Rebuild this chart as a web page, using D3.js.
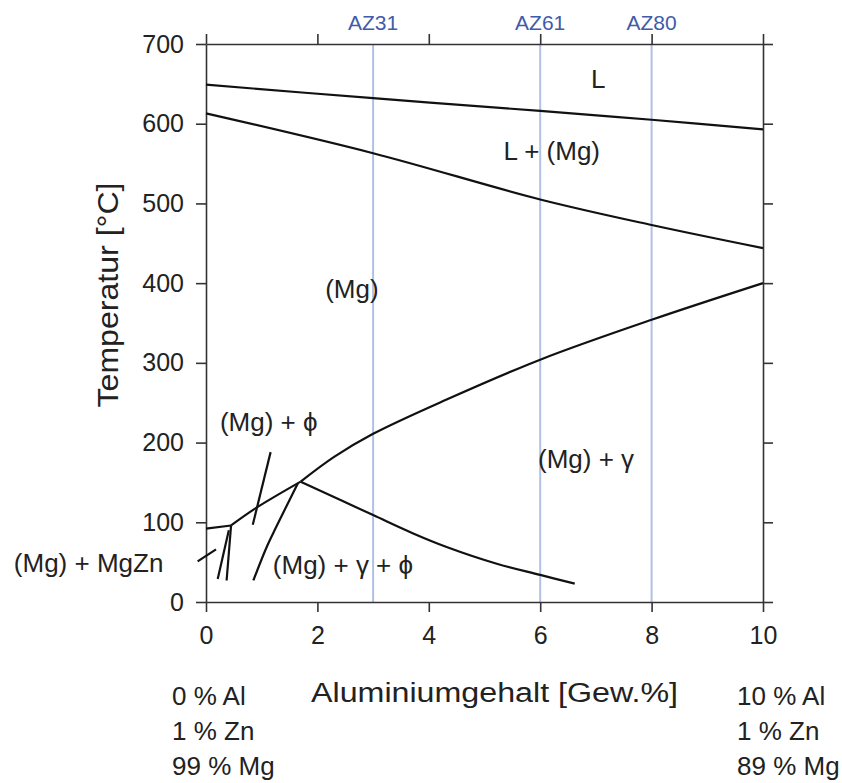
<!DOCTYPE html>
<html>
<head>
<meta charset="utf-8">
<script src="https://cdn.jsdelivr.net/npm/d3@7"></script>
<style>
  body { margin: 0; background: #fff; }
  text { font-family: "Liberation Sans", Arial, sans-serif; fill: #222; }
</style>
</head>
<body>
<div id="chart"></div>
<script>
// Mg-Al-Zn (1 % Zn) section: [wt.% Al, °C]
const xTicks = [0, 2, 4, 6, 8, 10];
const yTicks = [0, 100, 200, 300, 400, 500, 600, 700];

const alloys = ['AZ31', 'AZ61', 'AZ80'];
const alloyAl = [3, 6, 8];

const liquidus = [[0, 649], [3, 632], [6, 616], [8, 605], [10, 593]];
const solidus = [[0, 613], [3, 563], [6, 505], [8, 473], [10, 444]];
const gammaSolvus = [[1.7, 151], [2.3, 182], [3, 211], [4.32, 254], [6, 304], [8, 354], [10, 400]];
const phiSolvus = [[0.45, 96], [0.9, 118], [1.7, 151]];
const zincSolvus = [[0, 92], [0.45, 96]];
const gammaPhiRight = [[1.7, 151], [3, 109], [3.72, 86], [4.32, 69], [5.22, 48], [6, 34], [6.62, 23]];
const gammaPhiLeft = [[0.85, 27], [1.09, 69], [1.26, 94], [1.65, 149]];
const zincLineA = [[0.37, 27], [0.45, 96]];
const zincLineB = [[0.21, 29], [0.41, 90]];
const phiPointer = [[0.84, 97], [1.16, 188]];
const mgznPointer = [[-0.15, 51], [0.18, 66]];

const phaseNames = ['L', 'L + (Mg)', '(Mg)', '(Mg) + ϕ', '(Mg) + γ', '(Mg) + γ + ϕ', '(Mg) + MgZn'];
const phaseAt = [[7.04, 645], [5.34, 555], [2.14, 381], [0.25, 215], [5.96, 168], [1.2, 35], [-3.45, 38]];
const phaseAnchor = ['middle', 'start', 'start', 'start', 'start', 'start', 'start'];

const leftComposition = ['0 % Al', '1 % Zn', '99 % Mg'];
const rightComposition = ['10 % Al', '1 % Zn', '89 % Mg'];

const width = 842;
const height = 783;
const margin = { top: 44, right: 79, bottom: 181, left: 206 };

const svg = d3.select('#chart').append('svg')
  .attr('width', width)
  .attr('height', height);

const x = d3.scaleLinear().domain([0, 10]).range([margin.left, width - margin.right]);
const y = d3.scaleLinear().domain([0, 700]).range([height - margin.bottom, margin.top]);

// alloy guide lines
svg.append('g').selectAll('line')
  .data(alloyAl)
  .join('line')
  .attr('x1', d => x(d)).attr('x2', d => x(d))
  .attr('y1', y(700)).attr('y2', y(0))
  .attr('stroke', '#b3c0e6')
  .attr('stroke-width', 2);

svg.append('g').selectAll('text')
  .data(alloys)
  .join('text')
  .attr('x', (d, i) => x(alloyAl[i]))
  .attr('y', 30)
  .attr('text-anchor', 'middle')
  .style('font-size', '21px')
  .style('fill', '#3f5bab')
  .text(d => d);

// axes on all four sides
const styleAxis = g => {
  g.selectAll('path, line').attr('stroke', '#333').attr('stroke-width', 1.6);
  g.selectAll('text').style('font-size', '25px').attr('fill', '#222');
};

svg.append('g')
  .attr('transform', `translate(${x(0)},0)`)
  .call(d3.axisLeft(y).tickValues(yTicks).tickSize(10).tickSizeOuter(0).tickPadding(12))
  .call(styleAxis);

svg.append('g')
  .attr('transform', `translate(0,${y(0)})`)
  .call(d3.axisBottom(x).tickValues(xTicks).tickSize(10).tickSizeOuter(0).tickPadding(14))
  .call(styleAxis);

svg.append('g')
  .attr('transform', `translate(0,${y(700)})`)
  .call(d3.axisTop(x).tickValues(xTicks).tickSize(10).tickSizeOuter(0).tickFormat(''))
  .call(styleAxis);

svg.append('g')
  .attr('transform', `translate(${x(10)},0)`)
  .call(d3.axisRight(y).tickValues(yTicks).tickSize(10).tickSizeOuter(0).tickFormat(''))
  .call(styleAxis);

// phase boundaries
const curve = d3.line()
  .x(d => x(d[0]))
  .y(d => y(d[1]))
  .curve(d3.curveCatmullRom.alpha(0.5));

const boundaries = [liquidus, solidus, gammaSolvus, phiSolvus, zincSolvus,
  gammaPhiRight, gammaPhiLeft, zincLineA, zincLineB, phiPointer, mgznPointer];

svg.append('g').selectAll('path')
  .data(boundaries)
  .join('path')
  .attr('d', curve)
  .attr('fill', 'none')
  .attr('stroke', '#111')
  .attr('stroke-width', 2.2);

// phase field labels
svg.append('g').selectAll('text')
  .data(phaseNames)
  .join('text')
  .attr('x', (d, i) => x(phaseAt[i][0]))
  .attr('y', (d, i) => y(phaseAt[i][1]))
  .attr('text-anchor', (d, i) => phaseAnchor[i])
  .attr('xml:space', 'preserve')
  .style('font-size', '26px')
  .text(d => d);

// axis titles
svg.append('text')
  .attr('transform', 'translate(118,295) rotate(-90)')
  .attr('text-anchor', 'middle')
  .attr('textLength', 225)
  .attr('lengthAdjust', 'spacingAndGlyphs')
  .style('font-size', '29px')
  .text('Temperatur [°C]');

svg.append('text')
  .attr('x', 311)
  .attr('y', 702)
  .attr('textLength', 367)
  .attr('lengthAdjust', 'spacingAndGlyphs')
  .style('font-size', '27px')
  .text('Aluminiumgehalt [Gew.%]');

// end compositions
svg.append('g').selectAll('text')
  .data(leftComposition)
  .join('text')
  .attr('x', 172)
  .attr('y', (d, i) => 705 + i * 35)
  .style('font-size', '26px')
  .text(d => d);

svg.append('g').selectAll('text')
  .data(rightComposition)
  .join('text')
  .attr('x', 737)
  .attr('y', (d, i) => 705 + i * 35)
  .style('font-size', '26px')
  .text(d => d);
</script>
</body>
</html>
